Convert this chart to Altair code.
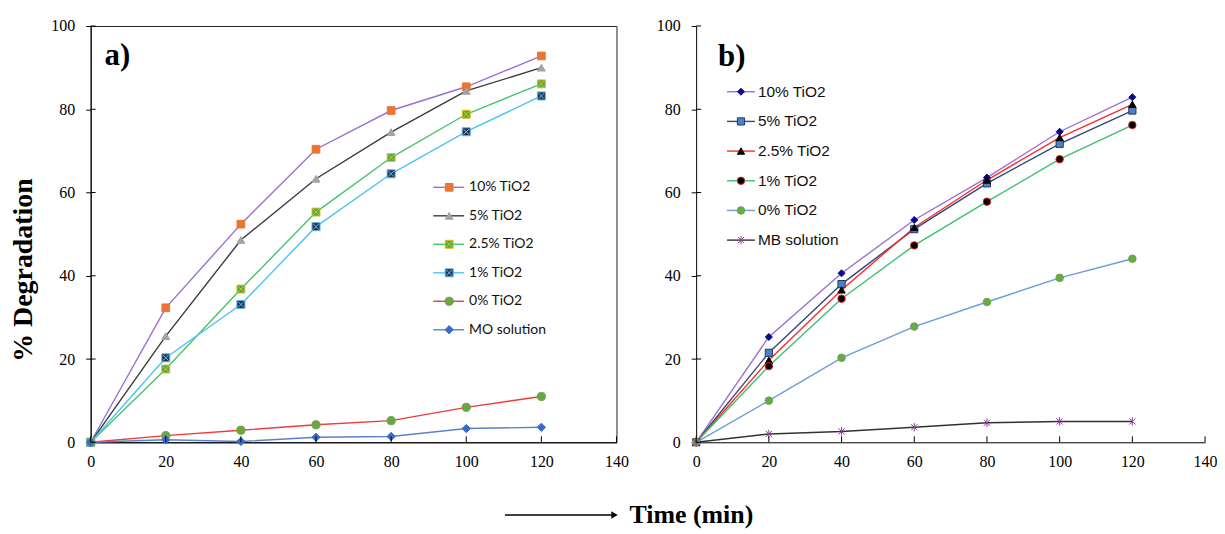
import altair as alt
import pandas as pd

# ---------------- data ----------------
time = [0, 20, 40, 60, 80, 100, 120]

series_a = ["10% TiO2", "5% TiO2", "2.5% TiO2", "1% TiO2", "0% TiO2", "MO solution"]
a_10 = [0, 32.3, 52.4, 70.4, 79.7, 85.4, 92.8]
a_5 = [0, 25.5, 48.6, 63.3, 74.5, 84.4, 90.0]
a_2_5 = [0, 17.6, 36.8, 55.3, 68.4, 78.8, 86.1]
a_1 = [0, 20.3, 33.1, 51.8, 64.5, 74.6, 83.2]
a_0 = [0, 1.6, 2.9, 4.2, 5.2, 8.4, 11.0]
a_mo = [0, 0.6, 0.2, 1.2, 1.4, 3.3, 3.6]

series_b = ["10% TiO2", "5% TiO2", "2.5% TiO2", "1% TiO2", "0% TiO2", "MB solution"]
b_10 = [0, 25.3, 40.6, 53.4, 63.6, 74.6, 82.9]
b_5 = [0, 21.5, 38.0, 51.2, 62.2, 71.7, 79.7]
b_2_5 = [0, 19.7, 36.6, 51.6, 63.0, 73.2, 81.2]
b_1 = [0, 18.3, 34.5, 47.3, 57.8, 68.0, 76.2]
b_0 = [0, 10.0, 20.3, 27.8, 33.7, 39.5, 44.1]
b_mb = [0, 2.0, 2.6, 3.6, 4.7, 5.0, 5.0]

x_ticks = [0, 20, 40, 60, 80, 100, 120, 140]
y_ticks = [0, 20, 40, 60, 80, 100]

# ---------------- styles ----------------
XSQ = "M-1,-1L1,-1L1,1L-1,1Z M-0.7,-0.7L0.7,0.7 M-0.7,0.7L0.7,-0.7"
AST = "M-0.8,-0.8L0.8,0.8 M-0.8,0.8L0.8,-0.8 M0,-1.1L0,1.1"

style_a = dict(
    line=["#9B6FD2", "#3A3A3A", "#45C46A", "#4DC3F5", "#F03A3A", "#5A82C8"],
    shape=["square", "triangle-up", XSQ, XSQ, "circle", "diamond"],
    fill=["#EC7432", "#A3A3A3", "#4DAA4D", "#1E3556", "#6BA646", "#3A6BC6"],
    stroke=["#EC7432", "#A3A3A3", "#E0C020", "#6FB8E6", "#6BA646", "#3A6BC6"],
    size=[60, 70, 64, 60, 64, 45],
)
style_b = dict(
    line=["#9B6FD2", "#2E4A78", "#FF2A2A", "#3CC070", "#6B9CDC", "#333333"],
    shape=["diamond", "square", "triangle-up", "circle", "circle", AST],
    fill=["#0A0A8A", "#4F81C8", "#000000", "#000000", "#6AA84A", "#8E3AA0"],
    stroke=["#0A0A8A", "#1F3864", "#000000", "#E02020", "#6AA84A", "#8E3AA0"],
    size=[50, 60, 55, 55, 64, 60],
)


def long_df(series, arrays):
    rows = []
    for s, vals in zip(series, arrays):
        for t, v in zip(time, vals):
            rows.append({"s": s, "t": t, "v": v})
    return pd.DataFrame(rows)


df_a = long_df(series_a, [a_10, a_5, a_2_5, a_1, a_0, a_mo])
df_b = long_df(series_b, [b_10, b_5, b_2_5, b_1, b_0, b_mb])

ONE = alt.Data(values=[{}])


def panel(df, series, st, W, H, ytitle, label, lab_xy, leg, legfont, extra=None, frame=False):
    xscale = alt.Scale(domain=[0, 140], nice=False)
    yscale = alt.Scale(domain=[0, 100], nice=False)
    x_enc = alt.X("t:Q", scale=xscale,
                  axis=alt.Axis(values=x_ticks, ticks=False, labelPadding=11, title=None,
                                format="d", labelFlush=False))
    if ytitle:
        yaxis = alt.Axis(values=y_ticks, tickSize=5, labelPadding=11, title=ytitle,
                         titleFont="Liberation Serif", titleFontWeight="bold",
                         titleFontSize=28, titlePadding=13, titleY=H * 0.585,
                         titleAlign="center", titleBaseline="bottom", format="d")
    else:
        yaxis = alt.Axis(values=y_ticks, tickSize=5, labelPadding=11, title=None, format="d")
    y_enc = alt.Y("v:Q", scale=yscale, axis=yaxis)

    col = alt.Color("s:N", scale=alt.Scale(domain=series, range=st["line"]), legend=None)
    shp = alt.Shape("s:N", scale=alt.Scale(domain=series, range=st["shape"]), legend=None)
    fil = alt.Fill("s:N", scale=alt.Scale(domain=series, range=st["fill"]), legend=None)
    stk = alt.Stroke("s:N", scale=alt.Scale(domain=series, range=st["stroke"]), legend=None)
    siz = alt.Size("s:N", scale=alt.Scale(domain=series, range=st["size"]), legend=None)

    base = alt.Chart(df)
    lines = base.mark_line(strokeWidth=1.4).encode(x=x_enc, y=y_enc, color=col, order="t:Q")
    pts = base.mark_point(opacity=1, strokeWidth=1).encode(
        x=x_enc, y=alt.Y("v:Q", scale=yscale, axis=None),
        shape=shp, fill=fil, stroke=stk, size=siz)

    tx = pd.DataFrame({"t": x_ticks})
    ty = pd.DataFrame({"v": y_ticks})
    xt = alt.Chart(tx).mark_rule(color="black", strokeWidth=1).encode(
        x=alt.X("t:Q", scale=xscale), y=alt.value(H - 6), y2=alt.value(H))
    yt = alt.Chart(ty).mark_rule(color="black", strokeWidth=1).encode(
        y=alt.Y("v:Q", scale=yscale, axis=None), x=alt.value(0), x2=alt.value(5))

    lab = alt.Chart(ONE).mark_text(font="Liberation Serif", fontWeight="bold", fontSize=31,
                                   align="left", baseline="alphabetic", color="black").encode(
        x=alt.value(lab_xy[0]), y=alt.value(lab_xy[1]), text=alt.value(label))

    ldf = pd.DataFrame({"s": series})
    ly = alt.Y("s:N", sort=series,
               scale=alt.Scale(type="point", domain=series, range=[leg["y0"], leg["y1"]], padding=0),
               axis=None)
    lrule = alt.Chart(ldf).mark_rule(strokeWidth=1.4).encode(
        y=ly, x=alt.value(leg["x0"]), x2=alt.value(leg["x1"]), color=col)
    lpt = alt.Chart(ldf).mark_point(opacity=1, strokeWidth=1).encode(
        y=ly, x=alt.value(leg["xm"]), shape=shp, fill=fil, stroke=stk, size=siz)
    ltxt = alt.Chart(ldf).mark_text(align="left", baseline="middle", font=legfont[0],
                                    fontSize=legfont[1], color="#111").encode(
        y=ly, x=alt.value(leg["xt"]), text="s:N")

    layers = [lines, pts, xt, yt, lab, lrule, lpt, ltxt]
    if extra:
        layers += extra
    ch = alt.layer(*layers).resolve_scale(y="independent")
    if frame:
        ch = ch.properties(width=W, height=H, view=alt.ViewBackground(stroke="#222", strokeWidth=1))
    else:
        ch = ch.properties(width=W, height=H)
    return ch


# bottom annotation (arrow + Time (min)), placed in panel a coordinates
arrow = alt.Chart(ONE).mark_rule(color="black", strokeWidth=1.3).encode(
    x=alt.value(416), x2=alt.value(524), y=alt.value(491))
head = alt.Chart(ONE).mark_point(shape="triangle-right", filled=True, color="black",
                                 size=55, opacity=1).encode(x=alt.value(526), y=alt.value(491))
ttl = alt.Chart(ONE).mark_text(font="Liberation Serif", fontWeight="bold", fontSize=26,
                               align="left", baseline="middle", color="black").encode(
    x=alt.value(541), y=alt.value(491), text=alt.value("Time (min)"))

pa = panel(df_a, series_a, style_a, 528, 418, "% Degradation", "a)", (14, 39),
           dict(y0=162, y1=305, x0=344, x1=375, xm=360, xt=380), ("Lato", 14),
           extra=[arrow, head, ttl], frame=True)
pb = panel(df_b, series_b, style_b, 511, 418, None, "b)", (22, 40),
           dict(y0=66, y1=215, x0=31, x1=59, xm=45, xt=62), ("Liberation Sans", 15.5))

chart = alt.hconcat(pa, pb, spacing=80, bounds="flush").resolve_scale(
    color="independent", shape="independent", fill="independent",
    stroke="independent", size="independent"
).properties(
    padding={"left": 1, "top": 8, "right": 0, "bottom": 0}
).configure_view(strokeWidth=0).configure_axis(
    domainColor="black", tickColor="black", labelColor="black", titleColor="black",
    labelFont="Liberation Serif", labelFontSize=16, grid=False, domainWidth=1, tickWidth=1
)

chart.save("out.html", embed_options={"renderer": "svg", "actions": False})
